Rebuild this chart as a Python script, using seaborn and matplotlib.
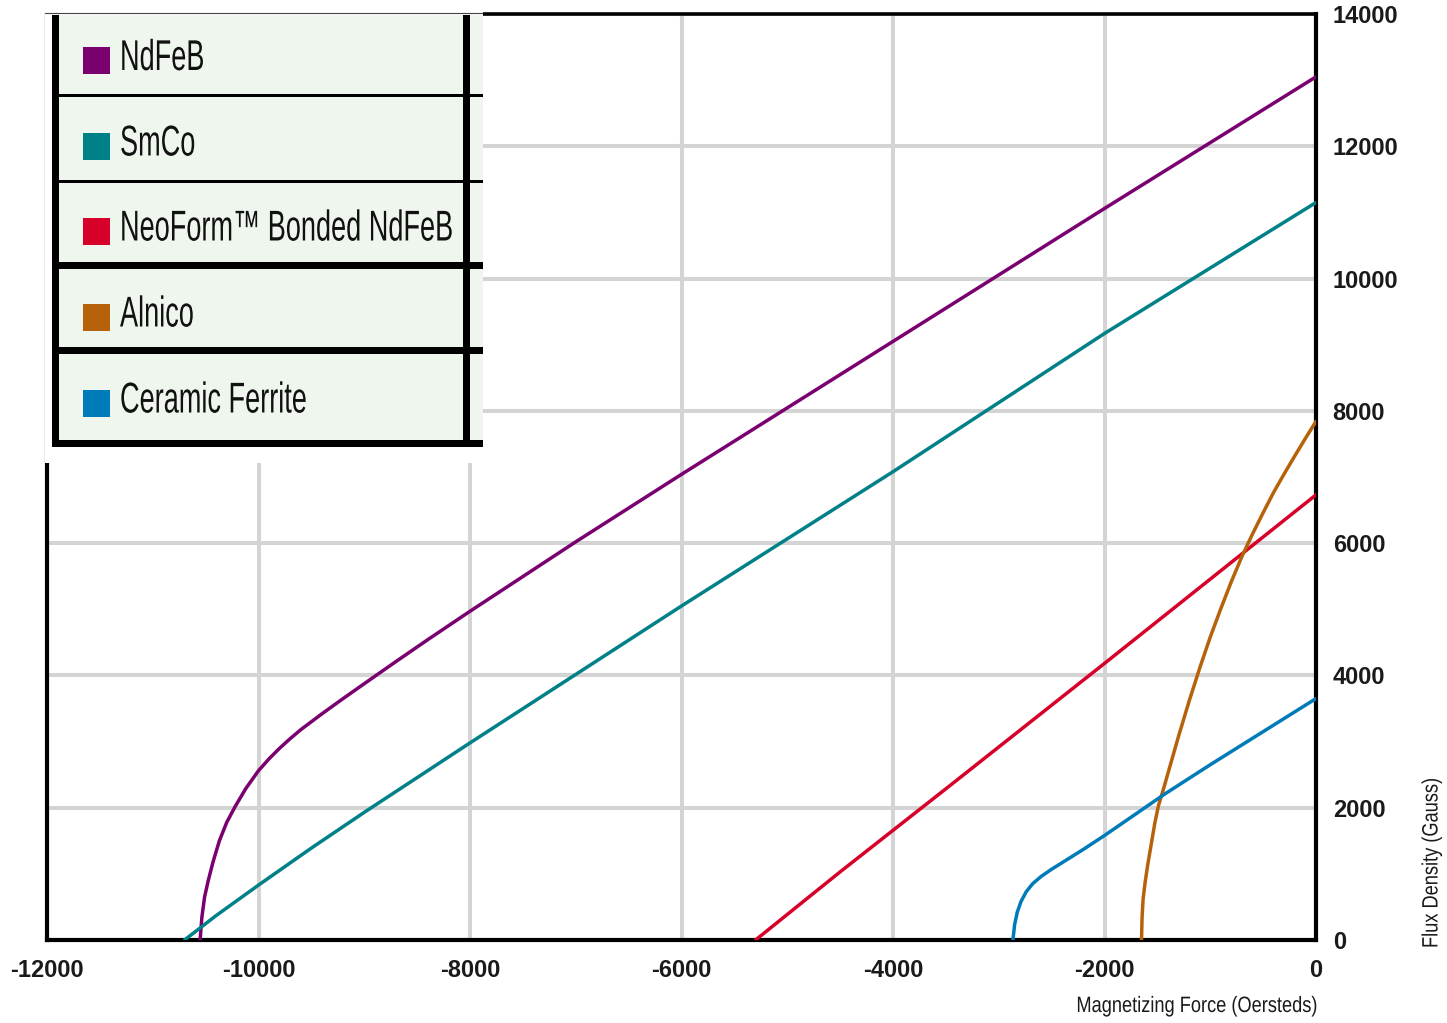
import numpy as np
import pandas as pd
import matplotlib
matplotlib.use("Agg")
import matplotlib.pyplot as plt
from matplotlib.patches import Rectangle
from matplotlib.patheffects import AbstractPathEffect
from matplotlib.transforms import Affine2D
import seaborn as sns

# Demagnetization curves: magnetizing force H (Oersteds) vs flux density B (Gauss)
materials = ["NdFeB", "SmCo", "NeoForm™ Bonded NdFeB", "Alnico", "Ceramic Ferrite"]
colors = ["#7b006f", "#008087", "#d70028", "#b5620b", "#007bb9"]

ndfeb_h = [-10552, -10535, -10510, -10475, -10430, -10370, -10300, -10220, -10120,
           -10000, -9900, -9800, -9700, -9600, -9400, -9200, -9000, -8700, -8400,
           -8000, -7000, -6000, -4000, -2000, 0]
ndfeb_b = [0, 350, 650, 900, 1180, 1500, 1780, 2020, 2290,
           2560, 2740, 2900, 3045, 3180, 3420, 3650, 3875, 4210, 4540,
           4970, 6020, 7040, 9050, 11060, 13050]

smco_h = [-10700, -10400, -10000, -9500, -9000, -8000, -6000, -4000, -2000, 0]
smco_b = [0, 370, 830, 1390, 1930, 2980, 5050, 7080, 9170, 11150]

neoform_h = [-5300, -4500, -3465, -1970, 0]
neoform_b = [0, 1030, 2330, 4220, 6730]

alnico_h = [-1650, -1645, -1635, -1615, -1590, -1560, -1525, -1490, -1441, -1400,
            -1300, -1200, -1100, -1000, -900, -800, -700, -600, -500, -400,
            -300, -200, -100, 0]
alnico_b = [0, 330, 620, 880, 1150, 1430, 1760, 2030, 2290, 2520,
            3080, 3610, 4110, 4580, 5010, 5420, 5800, 6140, 6460, 6770,
            7050, 7320, 7585, 7840]

ferrite_h = [-2866, -2850, -2825, -2790, -2740, -2680, -2600, -2500, -2400,
             -2200, -2000, -1800, -1600, -1437, -1000, -500, 0]
ferrite_b = [0, 230, 420, 580, 730, 850, 960, 1070, 1170,
             1370, 1580, 1800, 2020, 2200, 2650, 3150, 3650]

x_ticks = [-12000, -10000, -8000, -6000, -4000, -2000, 0]
y_ticks = [0, 2000, 4000, 6000, 8000, 10000, 12000, 14000]
x_label = "Magnetizing Force (Oersteds)"
y_label = "Flux Density (Gauss)"

curves = [(ndfeb_h, ndfeb_b), (smco_h, smco_b), (neoform_h, neoform_b),
          (alnico_h, alnico_b), (ferrite_h, ferrite_b)]
frames = []
for name, (h, b) in zip(materials, curves):
    frames.append(pd.DataFrame({"H": h, "B": b, "material": name}))
df = pd.concat(frames, ignore_index=True)


class Squeeze(AbstractPathEffect):
    """Render text glyphs narrowed about a fixed anchor (display pixels)."""

    def __init__(self, sx=1.0, sy=1.0, x0=0.0, y0=0.0):
        super().__init__()
        self._t = Affine2D().translate(-x0, -y0).scale(sx, sy).translate(x0, y0)

    def draw_path(self, renderer, gc, tpath, affine, rgbFace=None):
        renderer.draw_path(gc, tpath, affine + self._t, rgbFace)


sns.set_theme(style="white")
plt.rcParams["font.family"] = ["Liberation Sans", "DejaVu Sans"]

W, H = 1447, 1023
fig = plt.figure(figsize=(W / 100, H / 100), dpi=100)
fig.patch.set_facecolor("white")

# main plot area (pixel box: x 47..1316, y 14..940)
ax = fig.add_axes([47 / W, (H - 940) / H, (1316 - 47) / W, (940 - 14) / H])
sns.lineplot(data=df, x="H", y="B", hue="material", hue_order=materials,
             palette=dict(zip(materials, colors)), sort=False, estimator=None,
             linewidth=2.5, legend=False, ax=ax, zorder=3)

ax.set_xlim(-12000, 0)
ax.set_ylim(0, 14000)
ax.set_xticks(x_ticks)
ax.set_yticks(y_ticks)
ax.set_xticklabels([str(v) for v in x_ticks])
ax.set_yticklabels([str(v) for v in y_ticks])
ax.yaxis.tick_right()
ax.grid(True, color="#d4d4d4", linewidth=2.9, zorder=0)
ax.set_axisbelow(True)
ax.tick_params(axis="x", length=0, pad=14, labelsize=17, labelcolor="#1a1a1a")
ax.tick_params(axis="y", length=0, pad=12, labelsize=17, labelcolor="#1a1a1a")
for lab in ax.get_xticklabels() + ax.get_yticklabels():
    lab.set_fontweight("bold")
ax.set_xlabel("")
ax.set_ylabel("")
for side in ["left", "bottom", "right"]:
    ax.spines[side].set_color("black")
    ax.spines[side].set_linewidth(3.0)
ax.spines["top"].set_color("black")
ax.spines["top"].set_linewidth(2.6)

# axis titles, drawn in a narrowed face
fig.text(1318 / W, (H - 1012) / H, x_label, ha="right", va="baseline",
         fontsize=16, color="#1a1a1a",
         path_effects=[Squeeze(sx=0.82, x0=1318)])
fig.text(1432 / W, (H - 948) / H, y_label, ha="center", va="bottom",
         rotation=90, fontsize=16, color="#1a1a1a",
         path_effects=[Squeeze(sy=0.82, y0=H - 948)])

# legend panel in pixel coordinates
lax = fig.add_axes([45 / W, (H - 463) / H, (483 - 45) / W, (463 - 11) / H])
lax.set_xlim(45, 483)
lax.set_ylim(463, 11)
lax.axis("off")
lax.add_patch(Rectangle((45, 11), 438, 452, facecolor="white", edgecolor="none"))
lax.plot([45, 483], [12.5, 12.5], color="#444444", linewidth=0.8)
lax.add_patch(Rectangle((52, 15), 431, 430, facecolor="#eff6ee", edgecolor="none"))
# vertical borders
lax.add_patch(Rectangle((52, 15), 7, 432, facecolor="black", edgecolor="none"))
lax.add_patch(Rectangle((463, 15), 7, 432, facecolor="black", edgecolor="none"))
# row separators: (top, thickness)
for top, thick in [(94.3, 2.5), (180, 2.5), (262, 6.5), (347, 6.5), (440, 6.5)]:
    lax.add_patch(Rectangle((52, top), 431, thick, facecolor="black", edgecolor="none"))

square_tops = [47, 132.5, 217.5, 303.5, 389.5]
for name, col, top in zip(materials, colors, square_tops):
    lax.add_patch(Rectangle((83, top), 27, 27, facecolor=col, edgecolor="none"))
    lax.text(120, top + 23, name, ha="left", va="baseline", fontsize=31,
             color="#111111", path_effects=[Squeeze(sx=0.63, x0=120)])

fig.savefig("out.png", dpi=100, facecolor="white")
